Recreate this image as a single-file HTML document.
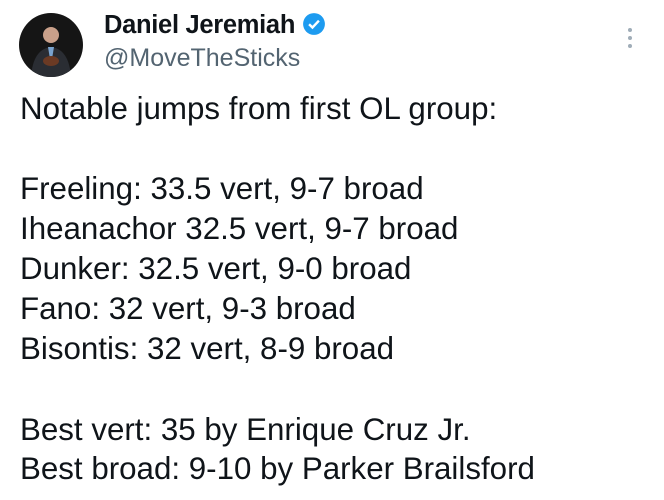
<!DOCTYPE html>
<html><head><style>
body{margin:0;width:664px;height:500px;background:#fff;font-family:"Liberation Sans",sans-serif;color:#0f1419;position:relative;overflow:hidden}
.av{position:absolute;left:19px;top:13px;width:64px;height:64px;border-radius:50%;background:#151515;overflow:hidden}
.name{position:absolute;left:104px;top:11px;font-size:25.5px;font-weight:bold;letter-spacing:-0.3px}
.handle{position:absolute;left:104px;top:44px;font-size:25px;color:#536471}
.dots{position:absolute;left:628px;top:28px;width:4px}
.dots i{display:block;width:4px;height:4px;border-radius:50%;background:#a0adb8;margin-bottom:4px}
.t{position:absolute;left:20px;font-size:31.3px;white-space:nowrap}
</style></head><body>
<div class="av">
<svg width="64" height="64"><circle cx="32" cy="22" r="8" fill="#c9a08a"/><path d="M12 64 Q14 36 32 34 Q50 36 52 64Z" fill="#2a2d33"/><path d="M29 34 L32 52 L35 34Z" fill="#7aa4d0"/><ellipse cx="32" cy="48" rx="8" ry="5" fill="#6b3a24"/></svg>
</div>
<div class="name">Daniel Jeremiah <svg width="24" height="24" viewBox="0 0 22 22" style="vertical-align:-3px"><circle cx="11" cy="11" r="10" fill="#1d9bf0"/><path d="M6.5 11.2 L9.6 14.2 L15.5 8" stroke="#fff" stroke-width="2.2" fill="none"/></svg></div>
<div class="handle">@MoveTheSticks</div>
<div class="dots"><i></i><i></i><i></i></div>
<div class="t" style="top:91px">Notable jumps from first OL group:</div>
<div class="t" style="top:171px">Freeling: 33.5 vert, 9-7 broad</div>
<div class="t" style="top:211px">Iheanachor 32.5 vert, 9-7 broad</div>
<div class="t" style="top:251px">Dunker: 32.5 vert, 9-0 broad</div>
<div class="t" style="top:291px">Fano: 32 vert, 9-3 broad</div>
<div class="t" style="top:331px">Bisontis: 32 vert, 8-9 broad</div>
<div class="t" style="top:412px">Best vert: 35 by Enrique Cruz Jr.</div>
<div class="t" style="top:451px">Best broad: 9-10 by Parker Brailsford</div>
</body></html>
